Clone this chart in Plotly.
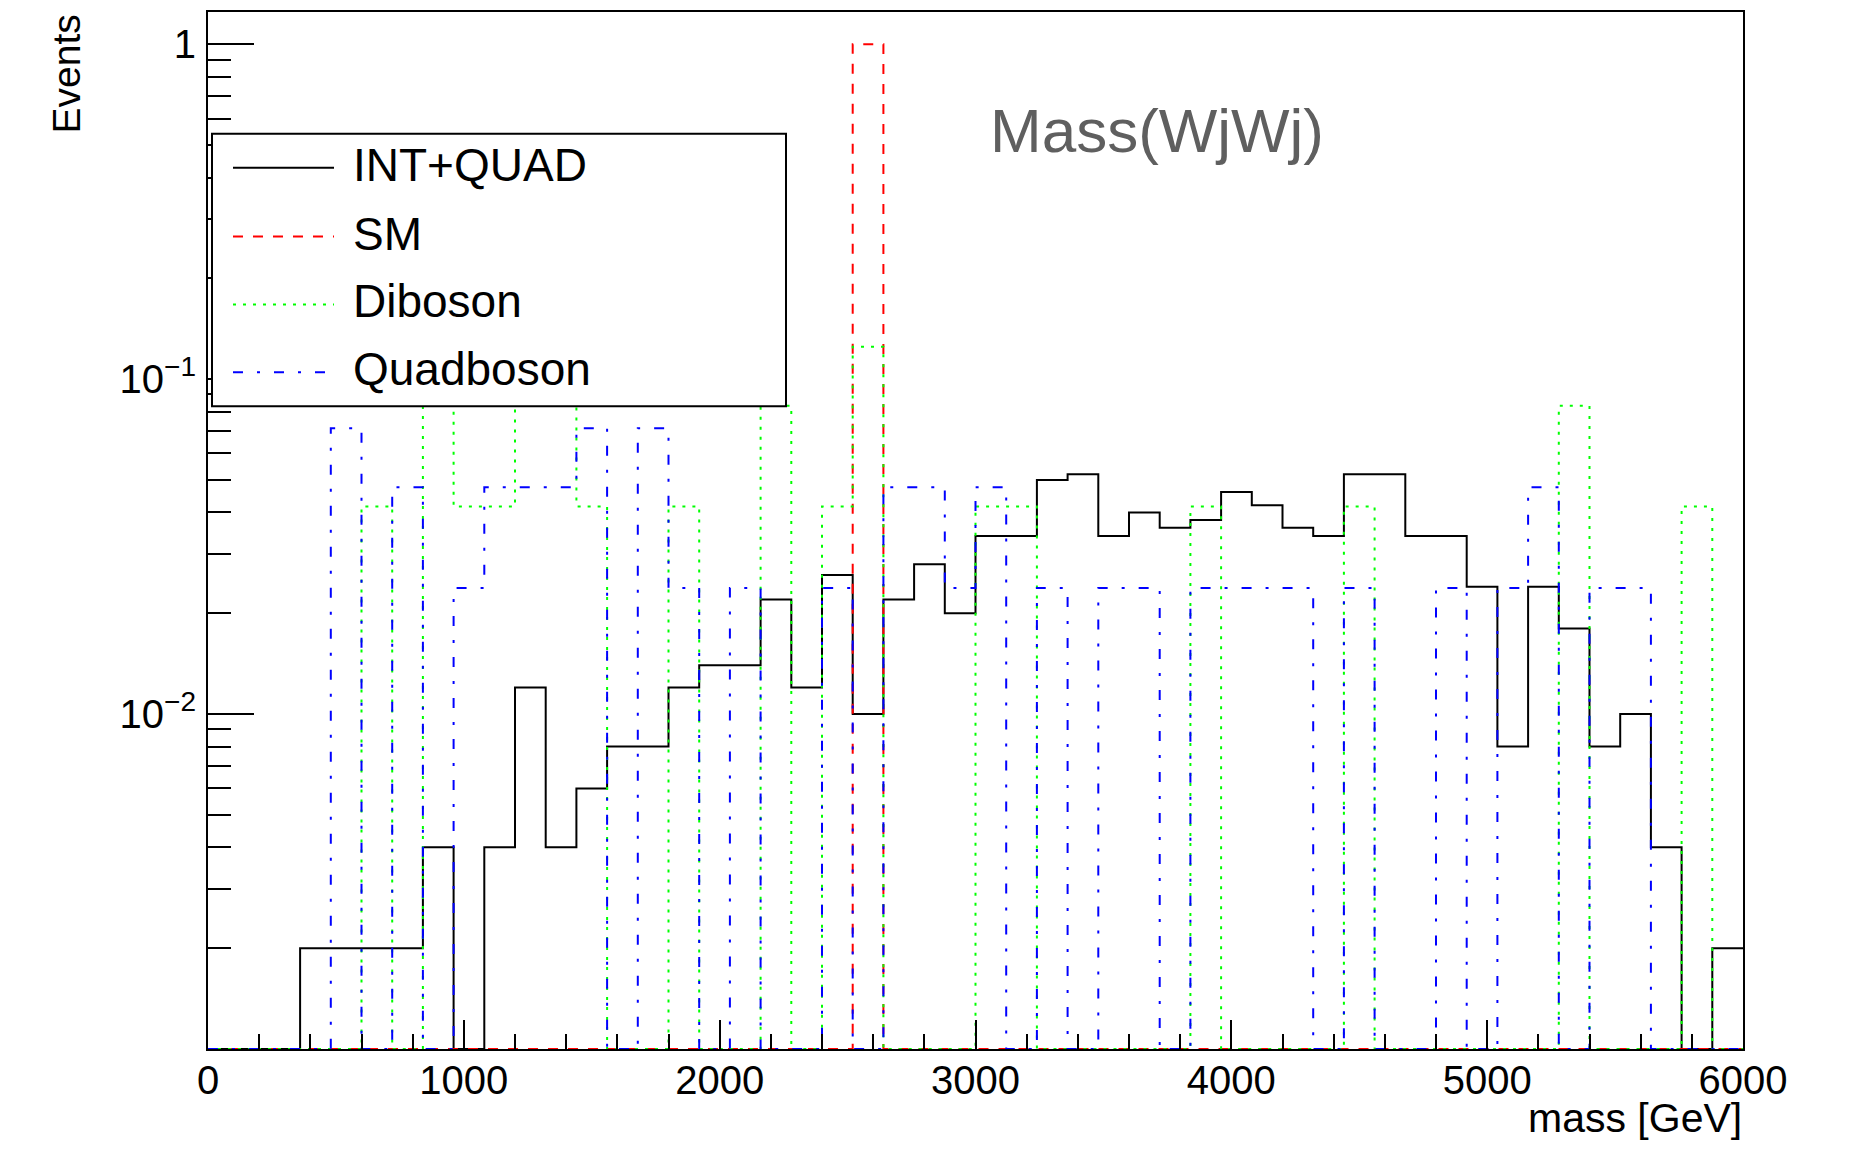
import plotly.graph_objects as go

# ---------------- data (50 bins of 120 GeV from 0 to 6000) ----------------
bin_edges = list(range(0, 6001, 120))

int_quad = [0, 0, 0, 0.002, 0.002, 0.002, 0.002, 0.004, 0, 0.004,
            0.012, 0.004, 0.006, 0.008, 0.008, 0.012, 0.014, 0.014, 0.022, 0.012,
            0.026, 0.010, 0.022, 0.028, 0.020, 0.034, 0.034, 0.050, 0.052, 0.034,
            0.040, 0.036, 0.038, 0.046, 0.042, 0.036, 0.034, 0.052, 0.052, 0.034,
            0.034, 0.024, 0.008, 0.024, 0.018, 0.008, 0.010, 0.004, 0, 0.002]

sm = [0, 0, 0, 0, 0, 0, 0, 0, 0, 0,
      0, 0, 0, 0, 0, 0, 0, 0, 0, 0,
      0, 1.0, 0, 0, 0, 0, 0, 0, 0, 0,
      0, 0, 0, 0, 0, 0, 0, 0, 0, 0,
      0, 0, 0, 0, 0, 0, 0, 0, 0, 0]

diboson = [0, 0, 0, 0, 0, 0.0417, 0, 0.0833, 0.0417, 0.0417,
           0.0833, 0.0833, 0.0417, 0, 0, 0.0417, 0, 0, 0.0833, 0,
           0.0417, 0.125, 0, 0, 0, 0.0417, 0.0417, 0, 0, 0,
           0, 0, 0.0417, 0, 0, 0, 0, 0.0417, 0, 0,
           0, 0, 0, 0, 0.0833, 0, 0, 0, 0.0417, 0]

quadboson = [0, 0, 0, 0, 0.0714, 0, 0.0476, 0, 0.0238, 0.0476,
             0.0476, 0.0476, 0.0714, 0, 0.0714, 0.0238, 0, 0.0238, 0, 0,
             0.0238, 0, 0.0476, 0.0476, 0.0238, 0.0476, 0, 0.0238, 0, 0.0238,
             0.0238, 0, 0.0238, 0.0238, 0.0238, 0.0238, 0, 0.0238, 0, 0,
             0.0238, 0, 0.0238, 0.0476, 0, 0.0238, 0.0238, 0, 0, 0]

series_names = ["INT+QUAD", "SM", "Diboson", "Quadboson"]
series_values = [int_quad, sm, diboson, quadboson]
series_colors = ["#000000", "#ff0000", "#00ff00", "#0000ff"]
series_dashes = ["solid", "10px,10px", "3px,7px", "10px,14px,3px,14px"]

x_tick_vals = [0, 1000, 2000, 3000, 4000, 5000, 6000]
x_tick_text = ["0", "1000", "2000", "3000", "4000", "5000", "6000"]
y_tick_vals = [0.01, 0.1, 1]
y_tick_text = ["10<sup>\u22122</sup>", "10<sup>\u22121</sup>", "1"]

title_text = "Mass(WjWj)"
x_title = "mass [GeV]"
y_title = "Events"

# ---------------- layout geometry ----------------
# the page body has an 8px margin, so the figure is sized to fit the window
OFF = 8
W, H = 1850 - 2 * OFF, 1152 - 2 * OFF
ML, MT = 208 - OFF, 10 - OFF
MR = W - (1743 - OFF)
MB = H - (1049 - OFF)
PW = W - ML - MR
PH = H - MT - MB
Y_MIN_LOG = -3.0
Y_MAX_LOG = 0.0963
Y_FLOOR = 10 ** Y_MIN_LOG
FONT = "Liberation Sans, Arial, Helvetica, sans-serif"


def px(x):
    """window pixel x -> paper coordinate"""
    return (x - OFF - ML) / PW


def py(y):
    """window pixel y -> paper coordinate"""
    return (H - MB - (y - OFF)) / PH


fig = go.Figure()

for name, vals, col, dash in zip(series_names, series_values, series_colors, series_dashes):
    yv = [v if v > 0 else Y_FLOOR for v in vals]
    fig.add_trace(go.Scatter(
        x=bin_edges,
        y=yv + [yv[-1]],
        mode="lines",
        line=dict(shape="hv", color=col, width=2, dash=dash),
        name=name,
        showlegend=False,
        hoverinfo="skip",
    ))

# minor tick positions on the log axis (2..9 per decade)
y_minor = []
for dec in [0.001, 0.01, 0.1]:
    for m in range(2, 10):
        y_minor.append(m * dec)

fig.update_layout(
    width=W, height=H,
    margin=dict(l=ML, r=MR, t=MT, b=MB, pad=0),
    paper_bgcolor="white",
    plot_bgcolor="white",
    showlegend=False,
    font=dict(family=FONT, color="black"),
    xaxis=dict(
        range=[0, 6000],
        showline=True, linecolor="black", linewidth=2, mirror=True,
        showgrid=False, zeroline=False,
        ticks="inside", ticklen=29, tickwidth=2, tickcolor="black",
        tickmode="array", tickvals=x_tick_vals, ticktext=x_tick_text,
        tickfont=dict(family=FONT, size=40, color="black"),
        ticklabelstandoff=-5,
        minor=dict(ticks="inside", ticklen=15, tickwidth=2, tickcolor="black",
                   dtick=200, tick0=0, showgrid=False),
    ),
    yaxis=dict(
        type="log",
        range=[Y_MIN_LOG, Y_MAX_LOG],
        showline=True, linecolor="black", linewidth=2, mirror=True,
        showgrid=False, zeroline=False,
        ticks="inside", ticklen=46, tickwidth=2, tickcolor="black",
        tickmode="array", tickvals=y_tick_vals, ticktext=y_tick_text,
        tickfont=dict(family=FONT, size=40, color="black"),
        ticklabelstandoff=2,
        minor=dict(ticks="inside", ticklen=23, tickwidth=2, tickcolor="black",
                   tickmode="array", tickvals=y_minor, showgrid=False),
    ),
)

annotations = [
    dict(text=title_text, xref="paper", yref="paper", x=px(1157), y=py(129),
         xanchor="center", yanchor="middle", showarrow=False,
         font=dict(family=FONT, size=62, color="#5f5f5f")),
    dict(text=x_title, xref="paper", yref="paper", x=px(1744), y=py(1118),
         xanchor="right", yanchor="middle", showarrow=False,
         font=dict(family=FONT, size=41, color="black")),
    dict(text=y_title, xref="paper", yref="paper", x=px(66), y=py(11),
         xanchor="center", yanchor="top", textangle=-90, showarrow=False,
         font=dict(family=FONT, size=39, color="black")),
]

shapes = [
    dict(type="rect", xref="paper", yref="paper",
         x0=px(212), x1=px(786), y0=py(405), y1=py(132),
         line=dict(color="black", width=2), fillcolor="white", layer="above"),
]

legend_rows_y = [166, 235, 303, 371]
for name, col, dash, ly in zip(series_names, series_colors, series_dashes, legend_rows_y):
    shapes.append(dict(type="line", xref="paper", yref="paper",
                       x0=px(233), x1=px(334), y0=py(ly), y1=py(ly),
                       line=dict(color=col, width=2, dash=dash), layer="above"))
    annotations.append(dict(text=name, xref="paper", yref="paper",
                            x=px(351), y=py(ly - 3), xanchor="left", yanchor="middle",
                            showarrow=False,
                            font=dict(family=FONT, size=46, color="black")))

fig.update_layout(annotations=annotations, shapes=shapes)

fig.write_html("out.html")
